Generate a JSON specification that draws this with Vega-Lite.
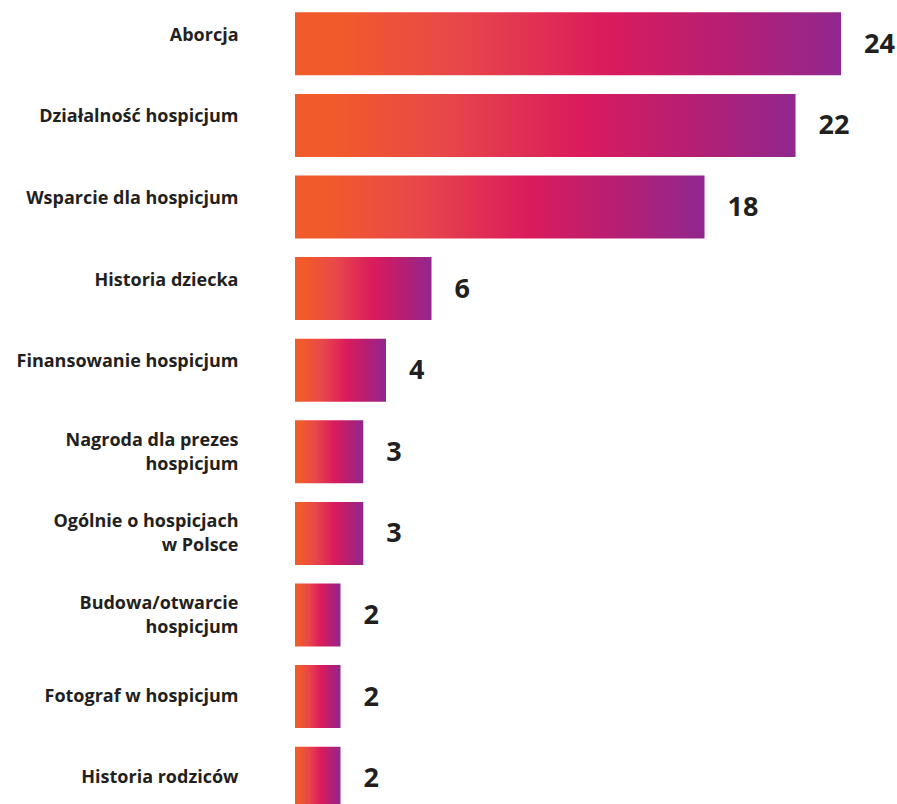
{
  "$schema": "https://vega.github.io/schema/vega-lite/v6.json",
  "autosize": {"type": "none"},
  "padding": {"left": 295, "top": 3, "right": 0, "bottom": 0},
  "width": 602,
  "height": 816,
  "background": "#ffffff",
  "config": {"view": {"stroke": null}},
  "data": {
    "values": [
      {"kategoria": "Aborcja", "liczba": 24},
      {"kategoria": "Działalność hospicjum", "liczba": 22},
      {"kategoria": "Wsparcie dla hospicjum", "liczba": 18},
      {"kategoria": "Historia dziecka", "liczba": 6},
      {"kategoria": "Finansowanie hospicjum", "liczba": 4},
      {"kategoria": "Nagroda dla prezes|hospicjum", "liczba": 3},
      {"kategoria": "Ogólnie o hospicjach|w Polsce", "liczba": 3},
      {"kategoria": "Budowa/otwarcie|hospicjum", "liczba": 2},
      {"kategoria": "Fotograf w hospicjum", "liczba": 2},
      {"kategoria": "Historia rodziców", "liczba": 2}
    ]
  },
  "encoding": {
    "y": {
      "field": "kategoria",
      "type": "nominal",
      "sort": null,
      "scale": {"paddingInner": 0.228, "paddingOuter": 0.114},
      "axis": {
        "title": null,
        "domain": false,
        "ticks": false,
        "labelPadding": 57,
        "labelFont": "Open Sans",
        "labelFontSize": 18,
        "labelFontWeight": "bold",
        "labelColor": "#231f20",
        "labelLimit": 300,
        "labelLineHeight": 24,
        "labelExpr": "split(datum.label, '|')",
        "labelOffset": {"expr": "indexof(datum.value, '|') >= 0 ? -11 : (indexof(['Aborcja','Działalność hospicjum','Wsparcie dla hospicjum','Historia dziecka','Finansowanie hospicjum'], datum.value) >= 0 ? -8 : 0)"}
      }
    },
    "x": {
      "field": "liczba",
      "type": "quantitative",
      "scale": {"domain": [0, 26.46], "nice": false, "zero": true},
      "axis": null
    }
  },
  "layer": [
    {
      "mark": {
        "type": "bar",
        "color": {
          "gradient": "linear",
          "x1": 0, "x2": 1, "y1": 0, "y2": 0,
          "stops": [
            {"offset": 0, "color": "#f15a29"},
            {"offset": 0.08, "color": "#f15a2b"},
            {"offset": 0.3, "color": "#e8474a"},
            {"offset": 0.57, "color": "#da1b5c"},
            {"offset": 0.8, "color": "#b41f74"},
            {"offset": 1, "color": "#91278f"}
          ]
        }
      }
    },
    {
      "mark": {
        "type": "text",
        "align": "left",
        "baseline": "middle",
        "dx": 23,
        "dy": 1,
        "font": "Open Sans",
        "fontSize": 27,
        "fontWeight": "bold",
        "color": "#231f20"
      },
      "encoding": {"text": {"field": "liczba", "type": "quantitative"}}
    }
  ]
}
